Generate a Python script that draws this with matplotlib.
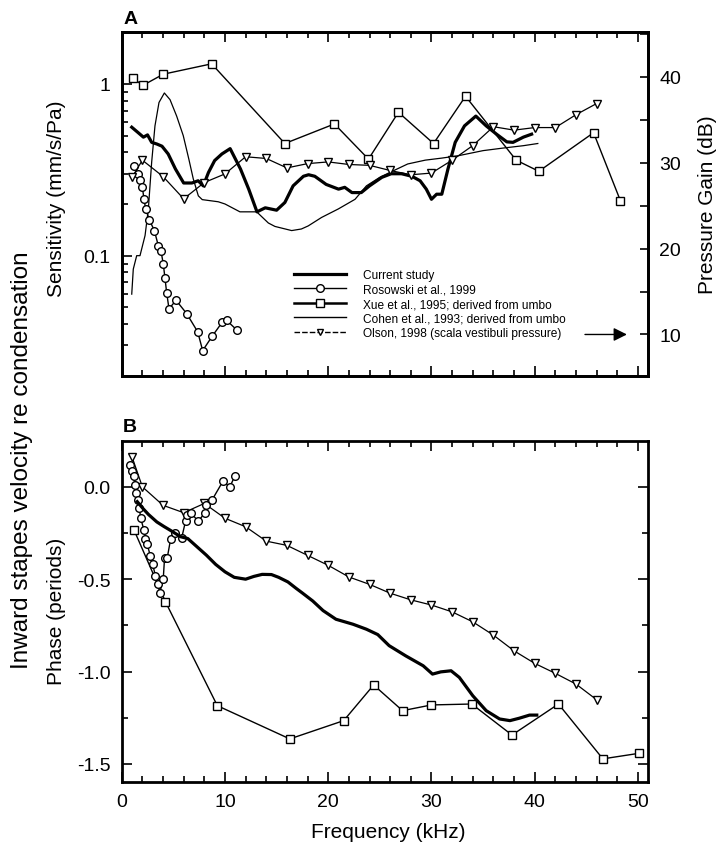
import numpy as np
import matplotlib
matplotlib.use("Agg")
import matplotlib.pyplot as plt
from matplotlib.lines import Line2D
from matplotlib.ticker import FixedLocator, MultipleLocator, NullFormatter

plt.rcParams.update({
    "font.family": ["Liberation Sans", "DejaVu Sans"],
    "axes.unicode_minus": False,
    "axes.linewidth": 2.0,
})

# ---- Panel A: sensitivity (mm/s/Pa) ----
cur_f_a = [0.97, 1.6, 2.1, 2.5, 2.9, 3.4, 3.9, 4.5, 5.2, 6.0, 6.8, 7.4, 7.9, 8.4, 9.0,
           9.7, 10.5, 11.5, 12.3, 13.1, 13.9, 15.0, 15.8, 16.6, 17.6, 18.1, 18.7,
           19.8, 21.0, 21.6, 22.3, 23.2, 24.0, 25.2, 26.1, 27.1, 28.1, 28.9, 29.5,
           30.0, 30.5, 31.0, 31.6, 32.3, 33.2, 34.3, 35.3, 36.3, 37.3, 37.9, 38.9, 39.7]
cur_sens = [0.56, 0.52, 0.49, 0.505, 0.457, 0.447, 0.434, 0.391, 0.32, 0.265, 0.265,
            0.273, 0.255, 0.305, 0.358, 0.391, 0.42, 0.32, 0.244, 0.18, 0.19, 0.184,
            0.204, 0.255, 0.29, 0.296, 0.29, 0.26, 0.244, 0.25, 0.233, 0.233, 0.255,
            0.286, 0.30, 0.30, 0.29, 0.273, 0.244, 0.213, 0.228, 0.228, 0.32, 0.457,
            0.57, 0.65, 0.57, 0.51, 0.46, 0.457, 0.49, 0.51]

ros_f_a = [1.19, 1.55, 1.77, 2.0, 2.16, 2.32, 2.67, 3.16, 3.55, 3.8, 4.03, 4.19, 4.35,
           4.58, 5.26, 6.29, 7.36, 7.84, 8.77, 9.74, 10.16, 11.13]
ros_sens = [0.335, 0.30, 0.277, 0.25, 0.213, 0.187, 0.162, 0.14, 0.114, 0.107, 0.089,
            0.074, 0.061, 0.049, 0.055, 0.046, 0.036, 0.028, 0.034, 0.041, 0.042, 0.037]

xue_f_a = [1.12, 2.03, 4.03, 8.71, 15.8, 20.6, 23.9, 26.8, 30.2, 33.3, 38.2, 40.4, 45.7, 48.3]
xue_sens = [1.08, 0.98, 1.14, 1.31, 0.45, 0.585, 0.365, 0.684, 0.45, 0.848, 0.36, 0.31,
            0.52, 0.209]

coh_f = [0.97, 1.12, 1.45, 1.77, 2.26, 2.58, 2.9, 3.22, 3.61, 4.13, 4.68, 5.32, 5.96,
         6.5, 6.93, 7.42, 7.8, 9.35, 10.0, 11.45, 13.07, 14.2, 14.84, 16.46, 17.4,
         18.06, 19.36, 20.97, 22.6, 23.7, 25.0, 26.1, 27.7, 29.4, 31.0, 32.6, 35.0,
         36.9, 38.9, 40.3]
coh_sens = [0.0597, 0.0835, 0.1, 0.1, 0.131, 0.187, 0.35, 0.57, 0.78, 0.886, 0.81, 0.65,
            0.5, 0.365, 0.28, 0.223, 0.212, 0.206, 0.2, 0.18, 0.18, 0.155, 0.148, 0.14,
            0.143, 0.149, 0.167, 0.187, 0.213, 0.255, 0.286, 0.308, 0.342, 0.36, 0.37,
            0.382, 0.409, 0.423, 0.437, 0.45]

ols_f = [1, 2, 4, 6, 8, 10, 12, 14, 16, 18, 20, 22, 24, 26, 28, 30, 32, 34, 36, 38, 40,
         42, 44, 46]
ols_gain = [28.3, 30.3, 28.4, 25.8, 27.7, 28.7, 30.7, 30.5, 29.4, 29.9, 30.1, 29.8, 29.7,
            29.1, 28.6, 28.8, 30.3, 32.0, 34.2, 33.8, 34.1, 34.1, 35.6, 36.9]

# ---- Panel B: phase (periods) ----
cur_f_b = [1.5, 2.1, 2.6, 3.4, 4.1, 4.7, 5.7, 6.4, 7.2, 8.2, 9.1, 10.0, 10.9, 12.0, 12.8,
           13.6, 14.5, 15.2, 16.1, 16.9, 17.5, 18.5, 19.5, 20.75, 22.4, 23.7, 24.8, 25.9,
           27.5, 29.2, 30.1, 30.9, 31.9, 32.7, 34.0, 35.3, 36.6, 37.6, 38.5, 39.5, 40.2]
cur_phase = [-0.08, -0.12, -0.15, -0.19, -0.215, -0.235, -0.27, -0.28, -0.32, -0.37,
             -0.42, -0.46, -0.49, -0.50, -0.485, -0.474, -0.475, -0.49, -0.515, -0.55,
             -0.575, -0.618, -0.67, -0.717, -0.744, -0.771, -0.80, -0.86, -0.915, -0.969,
             -1.014, -1.002, -0.996, -1.032, -1.131, -1.212, -1.257, -1.266, -1.253,
             -1.236, -1.236]

ros_f_b = [0.85, 1.01, 1.17, 1.27, 1.4, 1.55, 1.72, 1.82, 2.14, 2.3, 2.47, 2.78, 3.0, 3.27,
           3.5, 3.69, 4.02, 4.15, 4.41, 4.73, 5.16, 5.81, 6.18, 6.28, 6.67, 7.42, 8.06,
           8.19, 8.77, 9.8, 10.48, 10.97]
ros_phase = [0.12, 0.084, 0.057, 0.012, -0.032, -0.069, -0.113, -0.167, -0.231, -0.281,
             -0.312, -0.375, -0.42, -0.483, -0.528, -0.573, -0.50, -0.384, -0.384, -0.285,
             -0.249, -0.276, -0.186, -0.15, -0.14, -0.186, -0.14, -0.096, -0.069, 0.03,
             0.0, 0.061]

xue_f_b = [1.17, 4.24, 9.26, 16.28, 21.5, 24.4, 27.2, 30.0, 33.9, 37.8, 42.3, 46.6, 50.1]
xue_phase = [-0.231, -0.623, -1.185, -1.365, -1.266, -1.073, -1.212, -1.181, -1.176,
             -1.344, -1.176, -1.473, -1.443]

ols_phase = [0.162, 0.0, -0.10, -0.14, -0.09, -0.17, -0.216, -0.294, -0.317, -0.371,
             -0.425, -0.488, -0.528, -0.576, -0.612, -0.64, -0.677, -0.731, -0.803,
             -0.888, -0.956, -1.01, -1.068, -1.153]

labels = ["Current study", "Rosowski et al., 1999", "Xue et al., 1995; derived from umbo",
          "Cohen et al., 1993; derived from umbo", "Olson, 1998 (scala vestibuli pressure)"]

TICK_FS = 14
LAB_FS = 15
mk = dict(markerfacecolor="white", markeredgecolor="k", markeredgewidth=1.0, color="k")

fig = plt.figure(figsize=(7.28, 8.53), dpi=100)
axA = fig.add_axes([0.1672, 0.5584, 0.7233, 0.4026])
axB = fig.add_axes([0.1672, 0.0817, 0.7233, 0.4005])
axR = axA.twinx()

# panel A
axA.plot(coh_f, coh_sens, "-", color="k", lw=0.9)
axA.plot(xue_f_a, xue_sens, "-", marker="s", ms=6, lw=1.0, **mk)
axA.plot(ros_f_a, ros_sens, "-", marker="o", ms=5.5, lw=1.0, **mk)
axA.plot(cur_f_a, cur_sens, "-", color="k", lw=2.3)
axR.plot(ols_f, ols_gain, "-", marker="v", ms=5.5, lw=0.9, **mk)

axA.set_yscale("log")
axA.set_ylim(0.02, 2.0)
axA.set_xlim(0, 51)
axA.yaxis.set_major_locator(FixedLocator([0.1, 1]))
axA.set_yticklabels(["0.1", "1"])
axA.yaxis.set_minor_locator(FixedLocator([0.02, 0.03, 0.04, 0.05, 0.06, 0.07, 0.08, 0.09,
                                          0.2, 0.3, 0.4, 0.5, 0.6, 0.7, 0.8, 0.9, 2.0]))
axA.yaxis.set_minor_formatter(NullFormatter())
axR.set_ylim(5.2, 45.2)
axR.yaxis.set_major_locator(FixedLocator([10, 20, 30, 40]))
axR.yaxis.set_minor_locator(FixedLocator([15, 25, 35, 45]))

for ax in (axA, axB):
    ax.xaxis.set_major_locator(MultipleLocator(10))
    ax.xaxis.set_minor_locator(MultipleLocator(2))
    ax.tick_params(which="both", direction="in", top=True, width=1.2, labelsize=TICK_FS)
    ax.tick_params(which="major", length=7, pad=8)
    ax.tick_params(which="minor", length=4)
axA.tick_params(axis="x", labelbottom=False)
axA.tick_params(axis="y", right=False)
axR.tick_params(which="both", direction="in", width=1.2, labelsize=TICK_FS)
axR.tick_params(which="major", length=6, pad=8)
axR.tick_params(which="minor", length=6)
for sp in axR.spines.values():
    sp.set_linewidth(2.0)

# legend (proxy handles)
handles = [
    Line2D([], [], color="k", lw=2.3),
    Line2D([], [], color="k", lw=1.0, marker="o", ms=5.5, mfc="white", mec="k"),
    Line2D([], [], color="k", lw=1.8, marker="s", ms=6, mfc="white", mec="k"),
    Line2D([], [], color="k", lw=1.0),
    Line2D([], [], color="k", lw=1.0, ls=(0, (4, 1.5)), marker="v", ms=5, mfc="white", mec="k"),
]
axA.legend(handles, labels, loc="upper left", bbox_to_anchor=(0.327, 0.31),
           frameon=False, fontsize=8.6, handlelength=4.4, handletextpad=1.4,
           labelspacing=0.2, borderaxespad=0, borderpad=0, numpoints=1)
axR.annotate("", xy=(49.2, 10), xytext=(44.6, 10),
             arrowprops=dict(arrowstyle="-|>", color="k", lw=1.0, mutation_scale=20))

# panel B
axB.plot(xue_f_b, xue_phase, "-", marker="s", ms=6, lw=1.0, **mk)
axB.plot(ols_f, ols_phase, "-", marker="v", ms=5.5, lw=0.9, **mk)
axB.plot(ros_f_b, ros_phase, "-", marker="o", ms=5.5, lw=1.0, **mk)
axB.plot(cur_f_b, cur_phase, "-", color="k", lw=2.3)
axB.set_xlim(0, 51)
axB.set_ylim(-1.6, 0.25)
axB.yaxis.set_major_locator(FixedLocator([-1.5, -1.0, -0.5, 0.0]))
axB.yaxis.set_minor_locator(FixedLocator([-1.25, -0.75, -0.25]))
axB.set_yticklabels(["-1.5", "-1.0", "-0.5", "0.0"])
axB.tick_params(which="both", right=True)

# labels
fig.text(0.169, 0.972, "A", fontsize=14, fontweight="bold", ha="left", va="baseline")
fig.text(0.169, 0.4936, "B", fontsize=14, fontweight="bold", ha="left", va="baseline")
fig.text(0.078, 0.767, "Sensitivity (mm/s/Pa)", rotation=90, ha="center", va="center",
         fontsize=LAB_FS)
fig.text(0.078, 0.283, "Phase (periods)", rotation=90, ha="center", va="center",
         fontsize=LAB_FS)
fig.text(0.030, 0.461, "Inward stapes velocity re condensation", rotation=90,
         ha="center", va="center", fontsize=17.5)
fig.text(0.9725, 0.760, "Pressure Gain (dB)", rotation=90, ha="center", va="center",
         fontsize=LAB_FS)
fig.text(0.533, 0.024, "Frequency (kHz)", ha="center", va="center", fontsize=LAB_FS)

fig.savefig("out.png", dpi=100)
